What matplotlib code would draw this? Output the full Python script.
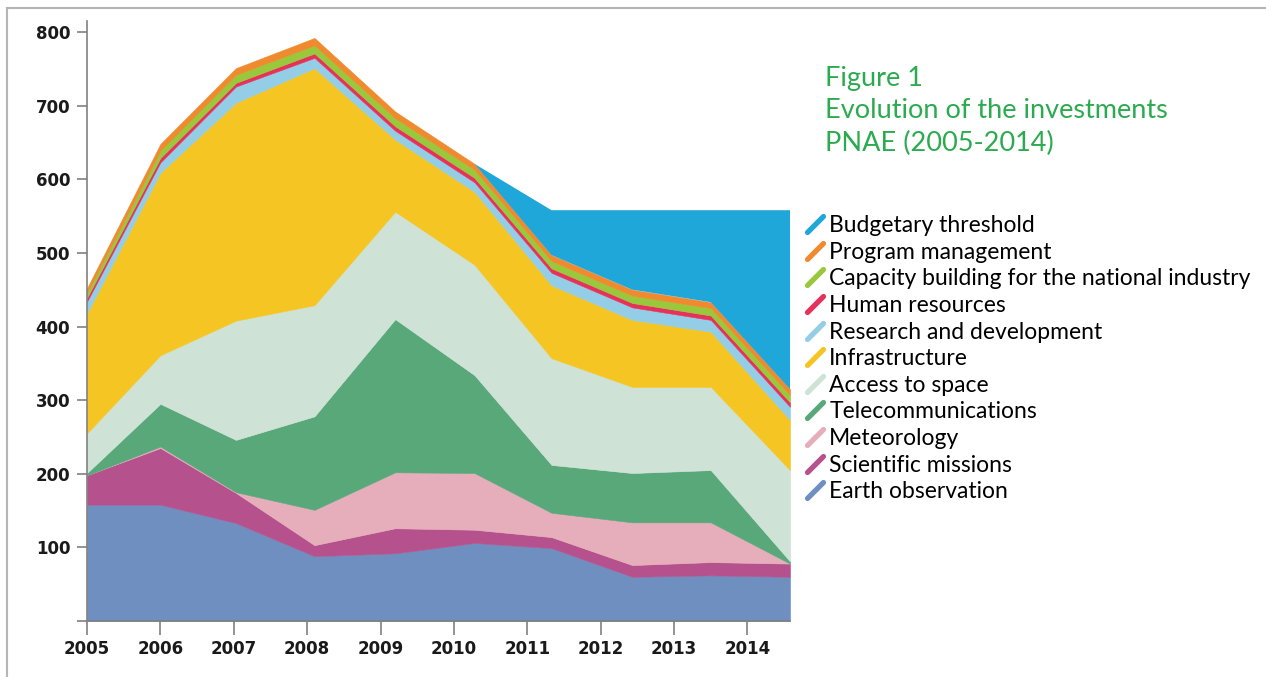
import matplotlib
matplotlib.use("Agg")
import matplotlib.pyplot as plt
from matplotlib.lines import Line2D
from matplotlib.markers import MarkerStyle
from matplotlib.path import Path
from matplotlib.patches import Rectangle

# data (millions), stacking order bottom -> top
years = [2005, 2006, 2007, 2008, 2009, 2010, 2011, 2012, 2013, 2014]
earth_obs = [158, 158, 133, 88, 92, 106, 99, 60, 62, 60]
sci_missions = [40, 77, 41, 15, 34, 18, 15, 16, 18, 18]
meteorology = [0, 2, 1, 48, 76, 77, 33, 58, 54, 0]
telecom = [3, 58, 71, 127, 208, 133, 65, 67, 71, 3]
access_space = [54, 66, 162, 151, 146, 150, 145, 117, 113, 124]
infrastructure = [163, 248, 296, 322, 98, 99, 99, 91, 75, 68]
research_dev = [16, 14, 22, 14, 12, 13, 17, 17, 16, 18]
human_res = [5, 6, 5, 6, 6, 6, 6, 6, 6, 6]
capacity = [7, 10, 11, 11, 11, 11, 10, 10, 10, 10]
program_mgmt = [6, 9, 9, 10, 9, 8, 8, 8, 8, 8]
budget_threshold = [0, 0, 0, 0, 0, 0, 61, 108, 125, 243]

labels = ["Earth observation", "Scientific missions", "Meteorology",
          "Telecommunications", "Access to space", "Infrastructure",
          "Research and development", "Human resources",
          "Capacity building for the national industry",
          "Program management", "Budgetary threshold"]
colors = ["#6f8fc1", "#b5528d", "#e6aebb", "#58a87a", "#cfe2d6", "#f5c623",
          "#94cde6", "#e8315a", "#9ac83c", "#ef8a2e", "#1fa7d9"]

# the vertices in the original sit slightly right of the year ticks
x_pos = [2005, 2006, 2007.03, 2008.1, 2009.2, 2010.28, 2011.33, 2012.43, 2013.5, 2014.58]

fig = plt.figure(figsize=(12.66, 6.77), dpi=100)
ax = fig.add_axes([87 / 1266, 56 / 677, 703 / 1266, 600 / 677])

series = [earth_obs, sci_missions, meteorology, telecom, access_space,
          infrastructure, research_dev, human_res, capacity, program_mgmt,
          budget_threshold]
polys = ax.stackplot(x_pos, *series, colors=colors, linewidth=0)
# thin same-colour edge to hide seams, except for the threshold layer
for p, c in zip(polys[:-1], colors[:-1]):
    p.set_edgecolor(c)
    p.set_linewidth(0.4)

ax.set_xlim(2005, 2014.58)
ax.set_ylim(0, 815)
ax.set_xticks(years)
ax.set_xticklabels([str(y) for y in years])
ax.set_yticks(range(0, 900, 100))
ax.set_yticklabels([""] + [str(v) for v in range(100, 900, 100)])

for s in ["top", "right"]:
    ax.spines[s].set_visible(False)
for s in ["left", "bottom"]:
    ax.spines[s].set_color("#808080")
    ax.spines[s].set_linewidth(1.2)
ax.tick_params(axis="x", colors="#808080", length=10, width=1.2, pad=4)
ax.tick_params(axis="y", colors="#808080", length=7, width=1.2, pad=5)
for lab in ax.get_xticklabels() + ax.get_yticklabels():
    lab.set_fontweight("bold")
    lab.set_fontsize(12)
    lab.set_color("#1a1a1a")

# legend with little slanted strokes, top item first
stroke = MarkerStyle(Path([(-1, -1), (1, 1)]), capstyle="round")
handles = [Line2D([0], [0], ls="none", marker=stroke, markersize=11.5,
                  markeredgewidth=3.8, markeredgecolor=c, markerfacecolor=c)
           for c in colors[::-1]]
fig.legend(handles, labels[::-1], loc="upper left",
           bbox_to_anchor=(796 / 1266, 1 - 206 / 677), frameon=False,
           prop={"family": "Lato", "size": 16.5}, labelspacing=0.245,
           handlelength=0.9, handletextpad=0.15, borderaxespad=0)

fig.text(825 / 1266, 1 - 66 / 677,
         "Figure 1\nEvolution of the investments\nPNAE (2005-2014)",
         ha="left", va="top", color="#2bab4f", fontsize=19.5,
         family="Lato", linespacing=1.36)

# light frame around the figure (cropped on right / bottom)
fig.add_artist(Rectangle((7 / 1266, -0.2), 1.2, 1.2 - 8 / 677,
                         transform=fig.transFigure, fill=False,
                         edgecolor="#b5b5b5", linewidth=1.5))

fig.savefig("out.png", dpi=100)
